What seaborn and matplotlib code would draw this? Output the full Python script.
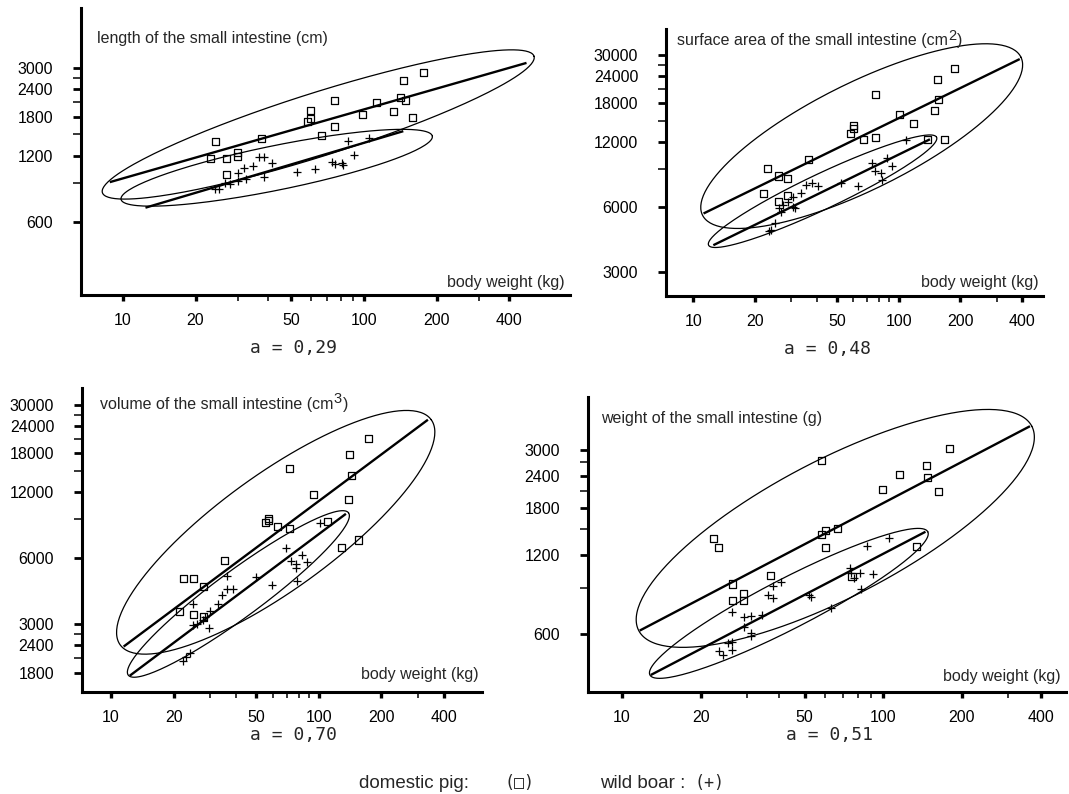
import numpy as np
import matplotlib
matplotlib.use("Agg")
import matplotlib.pyplot as plt
from matplotlib.ticker import FixedLocator, FixedFormatter, NullFormatter
import seaborn as sns

# ---- data (body weight in kg) ----
# length of the small intestine (cm)
len_pig_bw = [24.2, 23.1, 27.0, 29.9, 29.9, 27.0, 37.5, 58.5, 60.0, 60.0, 75.2,
              75.7, 66.8, 98.2, 113, 132, 142, 146, 149, 159, 177]
len_pig = [1396, 1166, 1166, 1236, 1186, 990, 1431, 1721, 1930, 1763, 2142,
           1622, 1482, 1845, 2084, 1897, 2195, 2640, 2142, 1781, 2849]
len_boar_bw = [24.0, 25.0, 26.4, 27.7, 30.0, 30.0, 31.9, 32.3, 34.6, 36.8, 38.5,
               41.4, 38.5, 52.6, 62.9, 73.3, 76.0, 80.8, 81.6, 86.1, 90.5, 104.5]
len_boar = [844, 844, 898, 889, 920, 1004, 1057, 936, 1076, 1186, 1186,
            1107, 962, 1014, 1039, 1126, 1095, 1114, 1091, 1392, 1211, 1446]

# surface area of the small intestine (cm2)
area_pig_bw = [23.0, 21.9, 26.0, 28.8, 28.6, 26.0, 36.5, 58.3, 60.1, 60.4, 67.3,
               76.8, 77.4, 101, 117.6, 138, 150, 154.5, 156, 168, 188]
area_pig = [9020, 6915, 8317, 8113, 6792, 6326, 9931, 13105, 14170, 13822, 12210,
            19720, 12560, 15930, 14580, 12210, 16690, 23300, 18830, 12290, 26210]
area_boar_bw = [23.4, 24.0, 24.9, 26.2, 26.7, 27.2, 28.8, 30.5, 30.7, 31.2, 33.5, 35.4,
                37.9, 40.4, 52.6, 63.5, 74.0, 76.8, 81.8, 83.4, 87.6, 92.7, 108]
area_boar = [4644, 4670, 5022, 5891, 5685, 6104, 6326, 6673, 5953, 5891, 6915, 7553,
             7687, 7500, 7745, 7500, 9517, 8770, 8555, 7969, 10040, 9252, 12210]

# volume of the small intestine (cm3)
vol_pig_bw = [22.3, 24.9, 21.4, 24.9, 27.9, 27.9, 35.2, 55.3, 57.4, 57.4, 63.5,
              72.0, 72.6, 94.5, 110, 128, 139, 140.6, 143, 154.5, 173]
vol_pig = [4845, 4845, 3429, 3311, 4467, 3230, 5820, 8670, 9107, 8890, 8370,
           15350, 8137, 11660, 8794, 6704, 11060, 17800, 14300, 7242, 21080]
vol_boar_bw = [22.3, 22.9, 24.1, 24.9, 24.9, 26.0, 27.7, 28.3, 29.7, 29.8, 32.6, 34.1, 36.1,
               36.1, 38.6, 49.8, 59.6, 69.8, 73.1, 77.4, 77.4, 78.2, 82.8, 87.7, 101]
vol_boar = [2042, 2115, 2223, 3719, 2979, 3010, 3141, 3230, 2875, 3429, 3719, 4049, 4966,
            4312, 4312, 4931, 4500, 6656, 5820, 5657, 5423, 4710, 6178, 5780, 8670]

# weight of the small intestine (g)
wt_pig_bw = [22.5, 23.5, 26.4, 26.4, 29.3, 29.3, 37.1, 58.2, 58.2, 60.0, 60.0,
             67.0, 75.9, 99.3, 115, 134, 146, 148, 162, 179.5]
wt_pig = [1385, 1280, 929, 803, 856, 803, 999, 2731, 1438, 1489, 1276,
          1511, 990, 2125, 2430, 1287, 2629, 2360, 2082, 3042]
wt_boar_bw = [23.5, 24.4, 25.5, 26.4, 26.4, 26.4, 29.3, 29.3, 31.2, 31.2, 31.2, 34.3, 36.2, 37.9,
              37.9, 40.7, 52.0, 52.8, 63.1, 74.3, 75.4, 77.6, 81.2, 82.4, 86.7, 91.4, 105.4]
wt_boar = [518, 499, 553, 561, 522, 729, 694, 640, 702, 603, 589, 708, 844, 819,
           912, 942, 844, 832, 751, 1065, 1020, 976, 1020, 886, 1295, 1014, 1385]

# regression lines: (x0, x1), (y0, y1)
len_lines = [((8.82, 472), (910, 3162)), ((12.4, 145.5), (697, 1550))]
area_lines = [((11.2, 389), (5585, 28840)), ((12.5, 142), (3987, 12290))]
vol_lines = [((11.5, 335), (2368, 25590)), ((12.3, 135), (1743, 9535))]
wt_lines = [((11.7, 364), (618, 3698)), ((12.9, 145), (419, 1468))]

# ellipses: tip 1, tip 2, minor/major ratio
len_ells = [((8.22, 815), (507, 3390), 0.14), ((9.82, 760), (192, 1472), 0.14)]
area_ells = [((11.07, 5486), (394, 29460), 0.30), ((11.85, 3987), (153, 12560), 0.14)]
vol_ells = [((11.07, 2410), (347.5, 25590), 0.30), ((12.1, 1755), (139, 9636), 0.17)]
wt_ells = [((11.6, 618), (370, 3698), 0.31), ((12.8, 419), (148, 1468), 0.16)]

x_major = [10, 20, 50, 100, 200, 400]
x_minor = [30, 40, 60, 70, 80, 90, 300]

sns.set_style("ticks")
plt.rcParams["font.family"] = ["Liberation Sans", "DejaVu Sans"]
plt.rcParams["mathtext.default"] = "regular"

W, H = 1069, 794
fig = plt.figure(figsize=(W / 100, H / 100), dpi=100)


def px(x, y):
    return x / W, 1 - y / H


def ellipse(p1, p2, k, ratio, n=240):
    a = np.log10(p1)
    b = np.log10(p2)
    c = (a + b) / 2
    u = (b - a) / 2
    v = np.array([-u[1] * ratio, u[0] / ratio]) * k
    t = np.linspace(0, 2 * np.pi, n)
    pts = c[:, None] + u[:, None] * np.cos(t) + v[:, None] * np.sin(t)
    return 10 ** pts[0], 10 ** pts[1]


panels = [
    dict(box=(81, 8, 570, 295), xlim=(6.7, 715), ylim=(280, 5610),
         ymaj=[600, 1200, 1800, 2400, 3000], ymin=[900, 1500, 2100, 2700],
         pig=(len_pig_bw, len_pig), boar=(len_boar_bw, len_boar),
         lines=len_lines, ells=len_ells,
         title="length of the small intestine (cm)", sup="", tpos=(97, 39),
         bw=(565, 282), a="a = 0,29", apos=(293, 348)),
    dict(box=(666, 29, 1043, 296), xlim=(7.35, 505), ylim=(2323, 39700),
         ymaj=[3000, 6000, 12000, 18000, 24000, 30000], ymin=[9000, 15000, 21000, 27000],
         pig=(area_pig_bw, area_pig), boar=(area_boar_bw, area_boar),
         lines=area_lines, ells=area_ells,
         title="surface area of the small intestine (cm", sup="2", tpos=(677, 41),
         bw=(1039, 283), a="a = 0,48", apos=(827, 349)),
    dict(box=(82, 388, 482, 692), xlim=(7.25, 610), ylim=(1470, 35700),
         ymaj=[1800, 2400, 3000, 6000, 12000, 18000, 24000, 30000],
         ymin=[2100, 2700, 9000, 15000, 21000, 27000],
         pig=(vol_pig_bw, vol_pig), boar=(vol_boar_bw, vol_boar),
         lines=vol_lines, ells=vol_ells,
         title="volume of the small intestine (cm", sup="3", tpos=(100, 404),
         bw=(479, 675), a="a = 0,70", apos=(293, 735)),
    dict(box=(588, 397, 1066, 692), xlim=(7.42, 500), ylim=(361, 4776),
         ymaj=[600, 1200, 1800, 2400, 3000], ymin=[900, 1500, 2100, 2700],
         pig=(wt_pig_bw, wt_pig), boar=(wt_boar_bw, wt_boar),
         lines=wt_lines, ells=wt_ells,
         title="weight of the small intestine (g)", sup="", tpos=(601, 419),
         bw=(1061, 676), a="a = 0,51", apos=(830, 735)),
]

renderer = fig.canvas.get_renderer()

for p in panels:
    l, t, r, b = p["box"]
    ax = fig.add_axes([l / W, 1 - b / H, (r - l) / W, (b - t) / H])
    sns.scatterplot(x=p["pig"][0], y=p["pig"][1], marker="s", s=26,
                    facecolor="none", edgecolor="black", linewidth=0.9, ax=ax, zorder=3)
    sns.scatterplot(x=p["boar"][0], y=p["boar"][1], marker="+", s=36,
                    color="black", linewidth=0.9, ax=ax, zorder=3)
    ax.set_xscale("log")
    ax.set_yscale("log")
    ax.set_xlim(p["xlim"])
    ax.set_ylim(p["ylim"])

    for lx, ly in p["lines"]:
        ax.plot(lx, ly, color="black", lw=1.7, solid_capstyle="butt")

    sx = (r - l) / np.log10(p["xlim"][1] / p["xlim"][0])
    sy = (b - t) / np.log10(p["ylim"][1] / p["ylim"][0])
    for p1, p2, k in p["ells"]:
        ex, ey = ellipse(p1, p2, k, sy / sx)
        ax.plot(ex, ey, color="black", lw=0.9)

    ax.xaxis.set_major_locator(FixedLocator(x_major))
    ax.xaxis.set_major_formatter(FixedFormatter([str(v) for v in x_major]))
    ax.xaxis.set_minor_locator(FixedLocator(x_minor))
    ax.xaxis.set_minor_formatter(NullFormatter())
    ax.yaxis.set_major_locator(FixedLocator(p["ymaj"]))
    ax.yaxis.set_major_formatter(FixedFormatter([str(v) for v in p["ymaj"]]))
    ax.yaxis.set_minor_locator(FixedLocator(p["ymin"]))
    ax.yaxis.set_minor_formatter(NullFormatter())

    ax.tick_params(axis="y", which="major", length=6, width=2, pad=14,
                   labelsize=11.5, color="black", labelcolor="black")
    ax.tick_params(axis="y", which="minor", length=6, width=1.1, color="black")
    ax.tick_params(axis="x", which="major", length=4, width=2.4, pad=9,
                   labelsize=11.5, color="black", labelcolor="black")
    ax.tick_params(axis="x", which="minor", length=4, width=1.1, color="black")

    sns.despine(ax=ax)
    for side in ("left", "bottom"):
        ax.spines[side].set_linewidth(2.2)
        ax.spines[side].set_color("black")
    ax.set_xlabel("")
    ax.set_ylabel("")
    ax.set_facecolor("none")

    # panel title, with a near full-size raised exponent and closing bracket
    tx, ty = p["tpos"]
    txt = fig.text(*px(tx, ty), p["title"], ha="left", va="center", fontsize=11.5)
    if p["sup"]:
        end = txt.get_window_extent(renderer).x1
        s = fig.text(*px(end + 0.5, ty - 5), p["sup"], ha="left", va="center", fontsize=10.5)
        end2 = s.get_window_extent(renderer).x1
        fig.text(*px(end2 + 0.5, ty), ")", ha="left", va="center", fontsize=11.5)

    fig.text(*px(*p["bw"]), "body weight (kg)", ha="right", va="center", fontsize=11.5)
    fig.text(*px(*p["apos"]), p["a"], ha="center", va="center", fontsize=13,
             family=["DejaVu Sans Mono"])

fig.text(*px(359, 783), "domestic pig:", ha="left", va="center", fontsize=13.5)
fig.text(*px(505, 783), "(□)", ha="left", va="center", fontsize=12,
         family=["DejaVu Sans Mono", "DejaVu Sans"])
fig.text(*px(600, 783), "wild boar :", ha="left", va="center", fontsize=13.5)
fig.text(*px(694, 783), "(+)", ha="left", va="center", fontsize=12,
         family=["DejaVu Sans Mono", "DejaVu Sans"])

fig.savefig("out.png", dpi=100, facecolor="white")
